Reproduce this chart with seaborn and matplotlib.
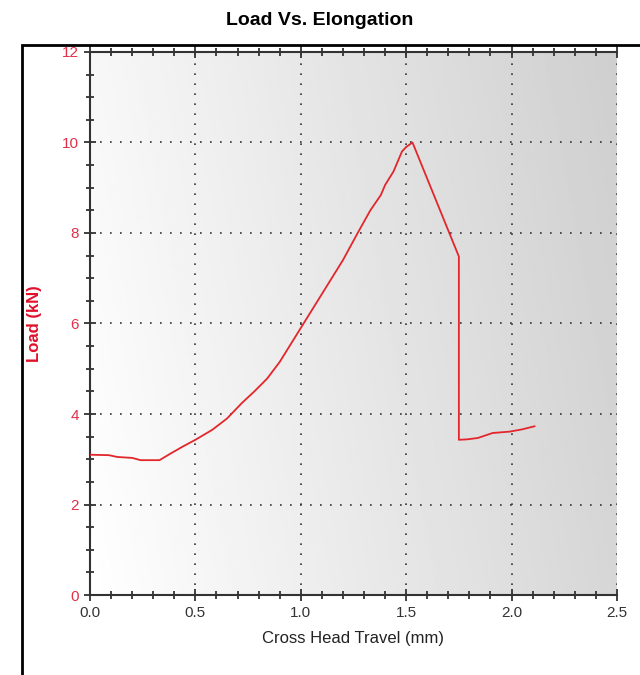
import numpy as np
import pandas as pd
import matplotlib
matplotlib.use("Agg")
import matplotlib.pyplot as plt
import seaborn as sns
from matplotlib.ticker import MultipleLocator
from matplotlib.patches import Rectangle

# data
travel = [0.00, 0.09, 0.13, 0.20, 0.24, 0.33, 0.38, 0.44, 0.50, 0.58, 0.65, 0.72,
          0.78, 0.84, 0.90, 1.00, 1.10, 1.20, 1.27, 1.33, 1.38, 1.40, 1.44, 1.48,
          1.50, 1.53, 1.75, 1.75, 1.79, 1.84, 1.91, 1.99, 2.05, 2.11]
load = [3.10, 3.09, 3.05, 3.03, 2.98, 2.98, 3.12, 3.28, 3.43, 3.65, 3.90, 4.24,
        4.50, 4.78, 5.15, 5.90, 6.65, 7.40, 8.00, 8.50, 8.84, 9.06, 9.36, 9.80,
        9.90, 10.00, 7.48, 3.43, 3.44, 3.47, 3.58, 3.61, 3.66, 3.73]
df = pd.DataFrame({"travel": travel, "load": load})

sns.set_style("white")
plt.rcParams["font.family"] = ["Liberation Sans Narrow", "Liberation Sans", "DejaVu Sans"]

fig = plt.figure(figsize=(6.4, 6.75), dpi=100)
ax = fig.add_axes([0.1406, 0.1185, 0.8234, 0.8045])

# outer frame
fig.patches.append(Rectangle((22 / 640, -0.05), 1.0, 1 - 45 / 675 + 0.05,
                             transform=fig.transFigure, fill=False,
                             edgecolor="black", linewidth=2, zorder=0))

# gradient background
gx = np.linspace(0, 1, 200)
gy = np.linspace(0, 1, 200)
GX, GY = np.meshgrid(gx, gy)
grad = 1.0 - 0.16 * GX - 0.03 * (1 - GY)
ax.imshow(grad, extent=[0, 1, 0, 1], transform=ax.transAxes, cmap="gray",
          vmin=0, vmax=1, aspect="auto", origin="upper", zorder=0)

sns.lineplot(data=df, x="travel", y="load", sort=False, estimator=None,
             color="#e3262b", linewidth=1.3, ax=ax, zorder=3)

ax.set_xlim(0, 2.5)
ax.set_ylim(0, 12)
ax.xaxis.set_major_locator(MultipleLocator(0.5))
ax.xaxis.set_minor_locator(MultipleLocator(0.1))
ax.yaxis.set_major_locator(MultipleLocator(2))
ax.yaxis.set_minor_locator(MultipleLocator(0.5))
ax.xaxis.set_major_formatter(matplotlib.ticker.FormatStrFormatter("%.1f"))

ax.grid(True, which="major", linestyle=(0, (1, 5)), color="#333333", linewidth=1.2)
ax.tick_params(axis="both", which="both", bottom=True, left=True, top=True,
               right=False, labeltop=False)
ax.tick_params(axis="both", which="major", direction="inout", length=9, width=1.3,
               color="#333333", labelsize=11)
ax.tick_params(axis="both", which="minor", direction="inout", length=6, width=1.3,
               color="#333333")
ax.tick_params(axis="y", labelcolor="#e0304a")
ax.tick_params(axis="x", labelcolor="#333333")

for side in ["left", "bottom", "top"]:
    ax.spines[side].set_color("#333333")
    ax.spines[side].set_linewidth(1.5)
ax.spines["right"].set_visible(False)

ax.set_xlabel("Cross Head Travel (mm)", fontsize=12, color="#222222", labelpad=8)
ax.set_ylabel("Load (kN)", fontsize=12, color="#e0102a", fontweight="bold",
              family=["Liberation Sans", "DejaVu Sans"], labelpad=14)
fig.text(0.5, 0.97, "Load Vs. Elongation", ha="center", va="center",
         fontsize=14, fontweight="bold", color="black")

fig.savefig("out.png", dpi=100)
